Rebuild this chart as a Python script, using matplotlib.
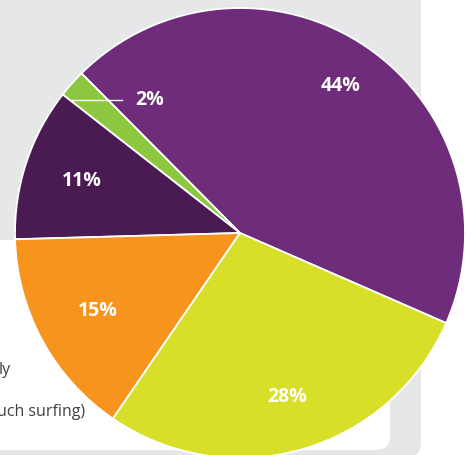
import matplotlib
matplotlib.use("Agg")
import matplotlib.pyplot as plt
from matplotlib.patches import FancyBboxPatch
import numpy as np

plt.rcParams['font.family'] = ['Open Sans', 'DejaVu Sans']

# slice values (percent), counterclockwise from the 44% slice
values = [44, 2, 11, 15, 28]
labels = ['44%', '2%', '11%', '15%', '28%']
colors = ['#6e2c7a', '#8dc63f', '#4a1b53', '#f7941e', '#d7df29']
legend_bits = ['ly', 'uch surfing)']

W, H = 473, 455
fig = plt.figure(figsize=(W / 100, H / 100), dpi=100)
fig.patch.set_facecolor('white')

# background panels, pixel coordinates
bg = fig.add_axes([0, 0, 1, 1])
bg.set_xlim(0, W)
bg.set_ylim(H, 0)
bg.axis('off')
bg.add_patch(FancyBboxPatch((-30, -30), 451, 488,
                            boxstyle='round,pad=0,rounding_size=16',
                            facecolor='#e6e7e8', edgecolor='none'))
bg.add_patch(FancyBboxPatch((-30, 240), 420, 210,
                            boxstyle='round,pad=0,rounding_size=14',
                            facecolor='white', edgecolor='none'))
bg.text(-1, 374, legend_bits[0], fontsize=11.5, color='#414042', va='baseline')
bg.text(-3, 416, legend_bits[1], fontsize=11.5, color='#414042', va='baseline')

# pie axes: centre (240, 233), radius 225 px
cx, cy, r = 240, 233, 225
ax = fig.add_axes([(cx - r) / W, (H - cy - r) / H, 2 * r / W, 2 * r / H])
ax.patch.set_visible(False)
wedges, _ = ax.pie(values, colors=colors, startangle=-23.6, counterclock=True,
                   wedgeprops=dict(edgecolor='white', linewidth=1.3))
ax.set_xlim(-1, 1)
ax.set_ylim(-1, 1)
ax.set_aspect('equal')
ax.axis('off')
for w in wedges:
    w.set_clip_on(False)

dists = [0.79, None, 0.74, 0.72, 0.76]
for w, lab, d in zip(wedges, labels, dists):
    if d is None:
        continue
    mid = np.deg2rad((w.theta1 + w.theta2) / 2)
    ax.text(d * np.cos(mid), d * np.sin(mid), lab, color='white',
            fontsize=14, fontweight='bold', ha='center', va='center')

# small slice label with leader line
ax.plot([-0.747, -0.524], [0.591, 0.591], color='white', lw=1.0)
ax.text(-0.4, 0.59, labels[1], color='white', fontsize=14,
        fontweight='bold', ha='center', va='center')

fig.savefig('out.png', dpi=100)
